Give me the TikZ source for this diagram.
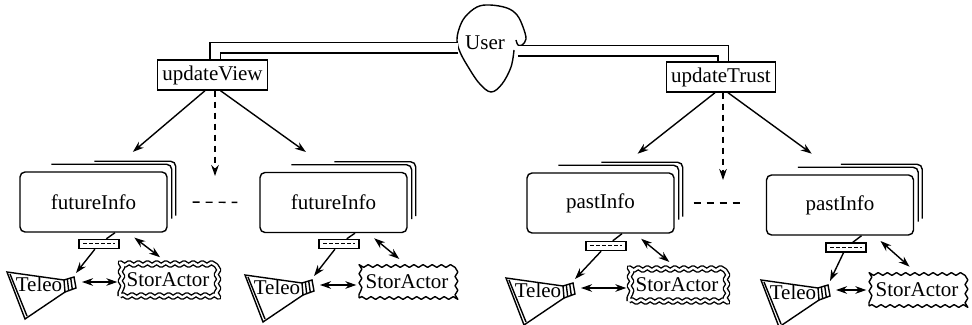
\documentclass[tikz,border=0pt]{standalone}
\usepackage{fontspec}
\setmainfont{Liberation Serif}
\usetikzlibrary{calc,arrows.meta,positioning,decorations.pathmorphing}
\tikzset{
    infobox/.style={
    rectangle,rounded corners=2.5pt,draw=black,fill=white,minimum width=73.5pt,minimum height=30pt
    },
    opbox/.style={
    rectangle,draw=black,fill=white,inner sep=2.5pt,minimum height=15pt
    },
    minibox/.style={
    rectangle,draw=black,fill=white,minimum width=20pt,minimum height=4.5pt,inner sep=0pt
    },
    storcloud/.style={
    rectangle,draw=black,minimum width=48pt,minimum height=16pt,inner sep=1pt,line join=round,
    decorate,decoration={snake,amplitude=0.7pt,segment length=128pt/28}
    },
    dstorcloud/.style={
    storcloud,double,double distance=1.2pt
    },
    link/.style={
    double,double distance=4.5pt
    },
    gap/.style={
    dash pattern=on 3.5pt off 3pt
    },
    calls/.style={
    ->,dash pattern=on 3pt off 2.5pt
    },
}
% two cards peeking out behind an info box
\newcommand{\cardstack}[1]{%
  \draw[rounded corners=2.5pt] ($(#1.north west)+(32,-7)$) -| ($(#1.south east)+(4,-14)$);
  \draw[rounded corners=2.5pt] ($(#1.north west)+(75,-10)$) -| ($(#1.south east)+(8,-17)$);
}
% megaphone round a Teleo label, with its ribbed cap
\newcommand{\megaphone}[1]{%
  \begin{scope}[shift={(#1)}]
    \draw (-32,-12) -- (25,-4) -- (26,8) -- (-14,35) -- cycle;
    \draw (-29,-10) -- (-12,32);
    \draw (25,-4) -- (35,-7) -- (37,4) -- (26,8);
    \draw (28.3,-5) -- (29.7,6.7) (31.7,-6) -- (33.3,5.3);
    \coordinate (#1cap) at (37,-11);
    \coordinate (#1end) at (43,-2);
  \end{scope}}

\begin{document}
\begin{tikzpicture}[x=0.5pt,y=-0.5pt,>={Stealth[length=5.5pt,width=3.8pt]},line width=0.7pt,
    font=\fontsize{10.5}{12}\selectfont]
  \useasboundingbox (0,0) rectangle (972,325);

  % the user and the two operations
  \node[inner sep=1pt] (user) at (485,43) {User};
  \begin{scope}[shift={(user)}]
    \draw plot[smooth,tension=0.6] coordinates {(31,-3) (33,2) (37,2) (41,-4) (38,-16) (32,-28)
      (22,-35) (5,-38) (-8,-36) (-20,-26) (-26,-14) (-28,-2) (-25,9) (-18,22) (-6,40) (6,49)
      (17,41) (26,24) (29,7)};
  \end{scope}
  \node[opbox] (view) at (212.5,75) {updateView};
  \node[opbox] (trust) at (721,77) {updateTrust};
  \draw[link,shorten <=2pt,shorten >=0.35pt] ([yshift=-2.5pt]user.west) -| ([xshift=1.25pt]view.north);
  \draw[link,shorten <=5pt,shorten >=0.35pt] ([yshift=-4pt]user.east) -| ([xshift=1pt]trust.north);

  % info boxes
  \node[infobox] (f1) at (93.5,202) {futureInfo};
  \node[infobox] (f2) at (333.5,202.5) {futureInfo};
  \node[infobox] (p1) at (600.5,203) {pastInfo};
  \node[infobox] (p2) at (840,205) {pastInfo};
  \cardstack{f1}
  \cardstack{f2}
  \cardstack{p1}
  \cardstack{p2}

  \draw[->,shorten >=15pt] ([xshift=-3.75pt]view.south) -- ([xshift=8.25pt]f1.north);
  \draw[->,shorten >=17pt] ([xshift=4pt]view.south) -- (f2.north);
  \coordinate (vgap) at (215,176);
  \draw[calls] ([xshift=1.25pt]view.south) -- (vgap);
  \draw[->,shorten >=15pt] ([xshift=-3pt]trust.south) -- ([xshift=6.75pt]p1.north);
  \draw[->,shorten >=17.5pt] ([xshift=3.5pt]trust.south) -- (p2.north);
  \coordinate (tgap) at (723,180);
  \draw[calls] ([xshift=1pt]trust.south) -- (tgap);

  \draw[gap,shorten <=12.5pt,shorten >=11pt] (f1.east) -- (f2.west);
  \draw[gap,shorten <=9.5pt,shorten >=10.5pt] (p1.east) -- (p1.east -| p2.west);

  % first group
  \node[minibox] (m1) at (99,244) {};
  \draw[dash pattern=on 2pt off 1pt,line width=0.5pt] ([xshift=2.5pt]m1.west) -- ([xshift=-2.5pt]m1.east);
  \node (t1) at (39,284) {Teleo};
  \megaphone{t1}
  \node[dstorcloud] (s1) at (168,280) {StorActor};
  \draw ([xshift=10.75pt]f1.south) -- (m1);
  \draw[->] (m1) -- (t1cap);
  \draw[<->,shorten <=4pt,shorten >=5pt] ([xshift=17.25pt]f1.south) -- (s1.north);
  \draw[<->,shorten >=1pt] (t1end) -- (t1end -| s1.west);

  % second group
  \node[minibox] (m2) at (339,244) {};
  \draw[dash pattern=on 2pt off 1pt,line width=0.5pt] ([xshift=2.5pt]m2.west) -- ([xshift=-2.5pt]m2.east);
  \node (t2) at (277,287) {Teleo};
  \megaphone{t2}
  \node[storcloud] (s2) at (407,282) {StorActor};
  \draw ([xshift=10.75pt]f2.south) -- (m2);
  \draw[->] (m2) -- (t2cap);
  \draw[<->,shorten <=4pt,shorten >=5pt] ([xshift=17.25pt]f2.south) -- (s2.north);
  \draw[<->,shorten >=1pt] (t2end) -- (t2end -| s2.west);

  % third group
  \node[minibox] (m3) at (606,246) {};
  \draw[dash pattern=on 2pt off 1pt,line width=0.5pt] ([xshift=2.5pt]m3.west) -- ([xshift=-2.5pt]m3.east);
  \node (t3) at (538,290) {Teleo};
  \megaphone{t3}
  \node[dstorcloud] (s3) at (677,285) {StorActor};
  \draw ([xshift=10.75pt]p1.south) -- (m3);
  \draw[->] (m3) -- (t3cap);
  \draw[<->,shorten <=4pt,shorten >=5pt] ([xshift=17.25pt]p1.south) -- (s3.north);
  \draw[<->,shorten >=1pt] (t3end) -- (t3end -| s3.west);

  % fourth group
  \node[minibox] (m4) at (846,247.5) {};
  \draw[dash pattern=on 2pt off 1pt,line width=0.5pt] ([xshift=2.5pt]m4.west) -- ([xshift=-2.5pt]m4.east);
  \node (t4) at (793,292) {Teleo};
  \megaphone{t4}
  \node[storcloud] (s4) at (917,290) {StorActor};
  \draw ([xshift=10.75pt]p2.south) -- (m4);
  \draw[->] (m4) -- (t4cap);
  \draw[<->,shorten <=4pt,shorten >=5pt] ([xshift=17.25pt]p2.south) -- (s4.north);
  \draw[<->,shorten >=1pt] (t4end) -- (t4end -| s4.west);
\end{tikzpicture}
\end{document}
